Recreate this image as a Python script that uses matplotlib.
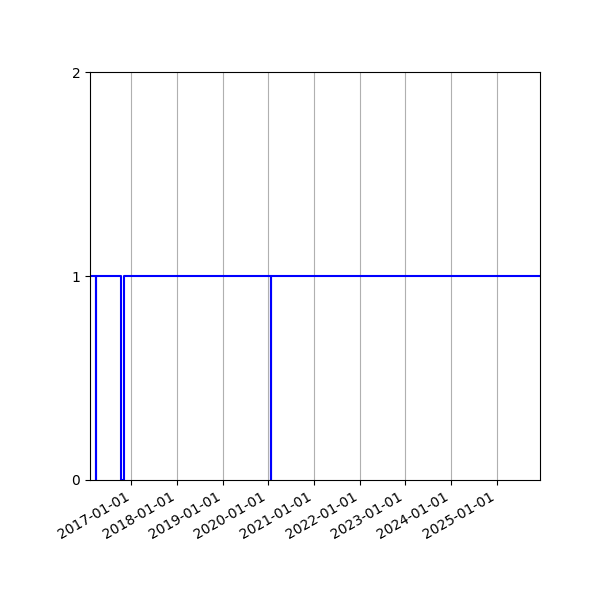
import datetime
import matplotlib
matplotlib.use("Agg")
import matplotlib.pyplot as plt
import matplotlib.dates as mdates

# change points of the status series (step, held until next date)
dates = ["2016-02-04", "2016-03-22", "2016-03-25", "2016-10-09",
         "2016-11-06", "2020-01-19", "2020-01-25", "2025-12-15"]
values = [1, 0, 1, 0, 1, 0, 1, 1]

dates = [datetime.datetime.strptime(d, "%Y-%m-%d") for d in dates]

fig = plt.figure(figsize=(6, 6), dpi=100)
ax = fig.add_subplot(111)
ax.plot(dates, values, drawstyle="steps-post", color="b", linewidth=1.5)

ax.set_xlim(dates[0], dates[-1])
ax.set_ylim(0, 2)
ax.set_yticks([0, 1, 2])
ax.xaxis.set_major_locator(mdates.YearLocator())
ax.xaxis.set_major_formatter(mdates.DateFormatter("%Y-%m-%d"))
ax.grid(True, axis="x")
fig.autofmt_xdate()
fig.subplots_adjust(left=0.15, right=0.9, top=0.88, bottom=0.2)

plt.savefig("out.png")
